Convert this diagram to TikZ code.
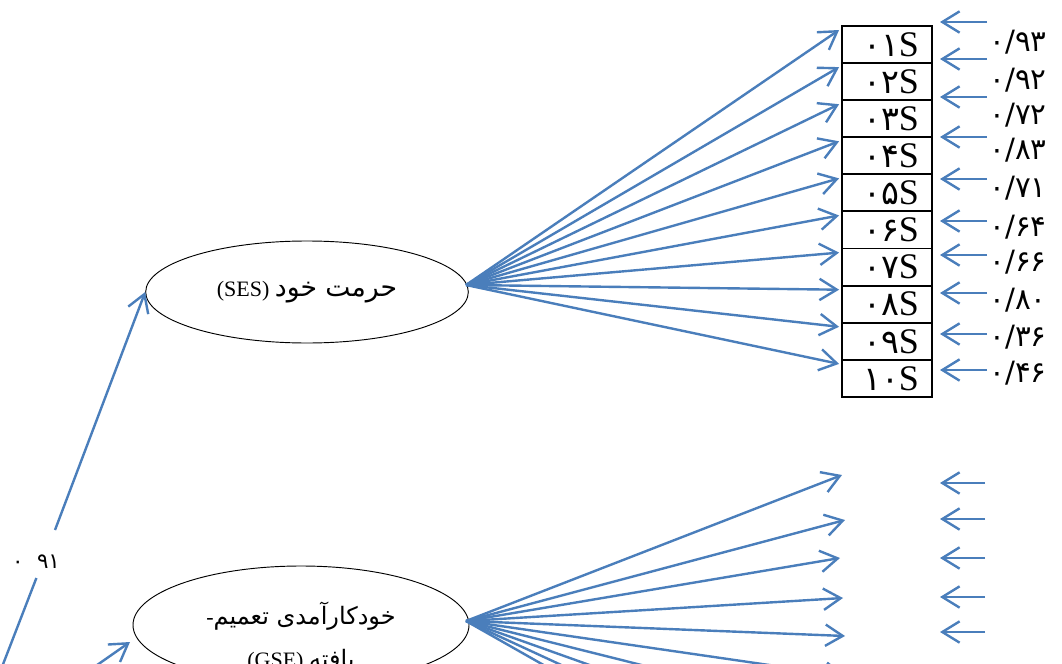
\documentclass[tikz,border=0pt]{standalone}
\usepackage{fontspec}
\setmainfont{Liberation Serif}
\newfontfamily\fa[Script=Arabic]{DejaVu Sans}
\TeXXeTstate=1
\usetikzlibrary{arrows.meta,shapes.geometric,calc}
\definecolor{ab}{RGB}{74,126,187}
\newcommand\slab[1]{\hspace*{6pt}{\fa\fontsize{25}{25}\selectfont #1}{\fontsize{27}{27}\selectfont S}}
\newcommand\val[1]{{\fa\fontsize{22}{22}\selectfont #1}}
\tikzset{
  conn/.style={draw=ab, line width=1.8pt, -{Straight Barb[length=13pt,width=16pt]}},
  plain/.style={draw=ab, line width=1.8pt},
  sbox/.style={draw, line width=1.4pt, minimum width=67.5pt, minimum height=27.8pt, inner sep=0pt, anchor=north},
  lat/.style={ellipse, draw, line width=0.7pt, inner sep=0pt},
  vlab/.style={inner sep=0pt},
}
\begin{document}
\begin{tikzpicture}[x=0.75pt,y=-0.75pt]
\useasboundingbox (0,0) rectangle (1062,663);
\clip (0,0) rectangle (1062,663);
% latent ellipses
\node[lat, minimum width=242pt, minimum height=76.5pt, font=\fontsize{16.5}{20}\selectfont] (ses) at (307,292)
  {(SES) {\fa\fontsize{20}{20}\selectfont\beginR حرمت خود\endR}};
\node[lat, minimum width=252pt, minimum height=88.5pt] (gse) at (301,625) {};
\node[align=center, inner sep=0pt, font=\fontsize{16.5}{32}\selectfont] (gset) at (301,637)
  {-{\fa\fontsize{18}{18}\selectfont\beginR خودکارآمدی تعمیم\endR}\\
   (GSE) {\fa\fontsize{18}{18}\selectfont\beginR یافته\endR}};
% indicator boxes
\node[sbox] (b1) at (887,25.0) {\slab{۰۱}};
\node[sbox] (b2) at (887,62.1) {\slab{۰۲}};
\node[sbox] (b3) at (887,99.2) {\slab{۰۳}};
\node[sbox] (b4) at (887,136.3) {\slab{۰۴}};
\node[sbox] (b5) at (887,173.4) {\slab{۰۵}};
\node[sbox] (b6) at (887,210.5) {\slab{۰۶}};
\node[sbox] (b7) at (887,247.6) {\slab{۰۷}};
\node[sbox] (b8) at (887,284.7) {\slab{۰۸}};
\node[sbox] (b9) at (887,321.8) {\slab{۰۹}};
\node[sbox] (b10) at (887,358.9) {\slab{۱۰}};
% fan from SES
\coordinate (fs) at (466,285);
\foreach \k in {1,...,10}{
  \draw[conn] (fs) -- ($(b\k.north west)+(-2,5)$);
}
% values for SES indicators
\node[vlab] (v1) at (1018,42) {\val{۰/۹۳}};
\node[vlab] (v2) at (1018,80) {\val{۰/۹۲}};
\node[vlab] (v3) at (1018,115) {\val{۰/۷۲}};
\node[vlab] (v4) at (1018,150) {\val{۰/۸۳}};
\node[vlab] (v5) at (1018,188) {\val{۰/۷۱}};
\node[vlab] (v6) at (1018,227) {\val{۰/۶۴}};
\node[vlab] (v7) at (1018,262) {\val{۰/۶۶}};
\node[vlab] (v8) at (1018,300) {\val{۰/۸۰}};
\node[vlab] (v9) at (1018,337) {\val{۰/۳۶}};
\node[vlab] (v10) at (1018,373) {\val{۰/۴۶}};
% error arrows for SES indicators
\foreach \k/\y in {1/22,2/59,3/97,4/137,5/179,6/221,7/255,8/293,9/334,10/370}{
  \coordinate (et\k) at (987,\y);
  \coordinate (eh\k) at (940,\y);
  \draw[conn] (et\k) -- (eh\k);
}
% fan from GSE
\coordinate (fg) at (466,621);
\foreach \k/\x/\y in {1/842/475,2/845/520,3/840/558,4/843/598,5/845/636,6/845/676,7/845/716,8/845/756,9/845/796,10/845/836}{
  \coordinate (g\k) at (\x,\y);
  \draw[conn] (fg) -- (g\k);
}
% error arrows for GSE indicators
\foreach \k/\y in {1/483,2/519,3/558,4/597,5/632}{
  \coordinate (gt\k) at (985,\y);
  \coordinate (gh\k) at (940,\y);
  \draw[conn] (gt\k) -- (gh\k);
}
% second-order paths
\coordinate (p0) at (-5,685);
\coordinate (p1) at (36.4,578);
\coordinate (p2) at (55,530);
\draw[plain] (p0) -- (p1);
\draw[conn] (p2) -- (ses.west);
\node[inner sep=0pt, font=\fa\fontsize{16}{16}\selectfont] (l91) at (36,562) {۰\ \ ۹۱};
\coordinate (q0) at (70,684);
\coordinate (q1) at (130,642);
\draw[conn] (q0) -- (q1);
\end{tikzpicture}
\end{document}
